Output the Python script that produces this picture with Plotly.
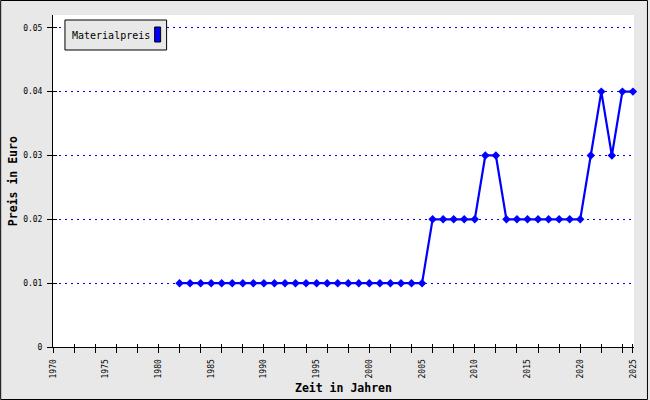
import plotly.graph_objects as go

years = list(range(1982, 2026))
prices = [0.01] * 24 + [0.02, 0.02, 0.02, 0.02, 0.02,
                        0.03, 0.03,
                        0.02, 0.02, 0.02, 0.02, 0.02, 0.02, 0.02, 0.02,
                        0.03, 0.04, 0.03, 0.04, 0.04]
series_name = "Materialpreis"
x_label_vals = list(range(1970, 2026, 5))
x_tick_vals = list(range(1970, 2025, 2)) + [2025]
y_tick_vals = [0, 0.01, 0.02, 0.03, 0.04, 0.05]
y_tick_text = ["0", "0.01", "0.02", "0.03", "0.04", "0.05"]

W, H = 650, 400
L, R, T, B = 53, 14, 15, 53
pw, ph = W - L - R, H - T - B

def px(x):
    return (x - L) / pw

def py(y):
    return (H - B - y) / ph

MONO = "DejaVu Sans Mono"
BLUE = "#0000ff"
xr = [1970, 2025.1]
yr = [0, 0.052]

fig = go.Figure()
fig.add_trace(go.Scatter(
    x=years, y=prices, mode="lines+markers", name=series_name,
    line=dict(color=BLUE, width=2.2),
    marker=dict(symbol="diamond", size=6.5, color=BLUE),
    showlegend=False, cliponaxis=False,
))
# invisible helpers for the overlay tick axes
fig.add_trace(go.Scatter(x=[None], y=[None], xaxis="x2", yaxis="y2", showlegend=False, hoverinfo="skip"))
fig.add_trace(go.Scatter(x=[None], y=[None], xaxis="x3", yaxis="y2", showlegend=False, hoverinfo="skip"))

tickfont = dict(family=MONO, size=8, color="black")
fig.update_layout(
    width=W, height=H,
    margin=dict(l=L, r=R, t=T, b=B),
    paper_bgcolor="#e8e8e8", plot_bgcolor="white",
    xaxis=dict(range=xr, tickvals=x_label_vals, ticks="", tickangle=-90,
               tickfont=tickfont, showgrid=False, zeroline=False,
               showline=True, linecolor="black", linewidth=1,
               ticklabelstandoff=8, fixedrange=True),
    xaxis2=dict(range=xr, overlaying="x", anchor="y2", tickvals=x_tick_vals,
                ticks="outside", ticklen=5, tickcolor="black", tickwidth=1,
                showticklabels=False, showgrid=False, zeroline=False, showline=False),
    xaxis3=dict(range=xr, overlaying="x", anchor="y2", tickvals=x_tick_vals,
                ticks="inside", ticklen=3, tickcolor="black", tickwidth=1,
                showticklabels=False, showgrid=False, zeroline=False, showline=False),
    yaxis=dict(range=yr, tickvals=y_tick_vals, ticktext=y_tick_text,
               ticks="outside", ticklen=5, tickcolor="black", tickwidth=1,
               tickfont=tickfont, showgrid=True, gridcolor="#0000ff",
               griddash="2px,4px", gridwidth=1, zeroline=False,
               showline=True, linecolor="black", linewidth=1,
               ticklabelstandoff=3, fixedrange=True),
    yaxis2=dict(range=yr, overlaying="y", anchor="x", tickvals=y_tick_vals,
                ticks="inside", ticklen=4, tickcolor="black", tickwidth=1,
                showticklabels=False, showgrid=False, zeroline=False, showline=False),
    showlegend=False,
)

shapes = [
    # legend box
    dict(type="rect", xref="paper", yref="paper", x0=px(65), x1=px(167), y0=py(50), y1=py(20),
         fillcolor="#e8e8e8", line=dict(color="black", width=1), layer="above"),
    # legend swatch
    dict(type="rect", xref="paper", yref="paper", x0=px(155), x1=px(161), y0=py(42), y1=py(27),
         fillcolor=BLUE, line=dict(color="black", width=1), layer="above"),
    # outer frame
    dict(type="rect", xref="paper", yref="paper", x0=px(0.5), x1=px(649.5), y0=py(399.5), y1=py(0.5),
         fillcolor="rgba(0,0,0,0)", line=dict(color="black", width=1), layer="above"),
]
fig.update_layout(shapes=shapes)

fig.add_annotation(x=px(70), y=py(35.5), xref="paper", yref="paper", text=series_name,
                   showarrow=False, xanchor="left", yanchor="middle",
                   font=dict(family=MONO, size=10, color="black"))
fig.add_annotation(x=px(344.5), y=py(388), xref="paper", yref="paper", text="<b>Zeit in Jahren</b>",
                   showarrow=False, xanchor="center", yanchor="middle",
                   font=dict(family=MONO, size=11.5, color="black"))
fig.add_annotation(x=px(13), y=py(181), xref="paper", yref="paper", text="<b>Preis in Euro</b>",
                   showarrow=False, xanchor="center", yanchor="middle", textangle=-90,
                   font=dict(family=MONO, size=11.5, color="black"))

fig.write_html("out.html", config={"displayModeBar": False},
               post_script="document.body.style.margin='0';document.body.style.padding='0';")
